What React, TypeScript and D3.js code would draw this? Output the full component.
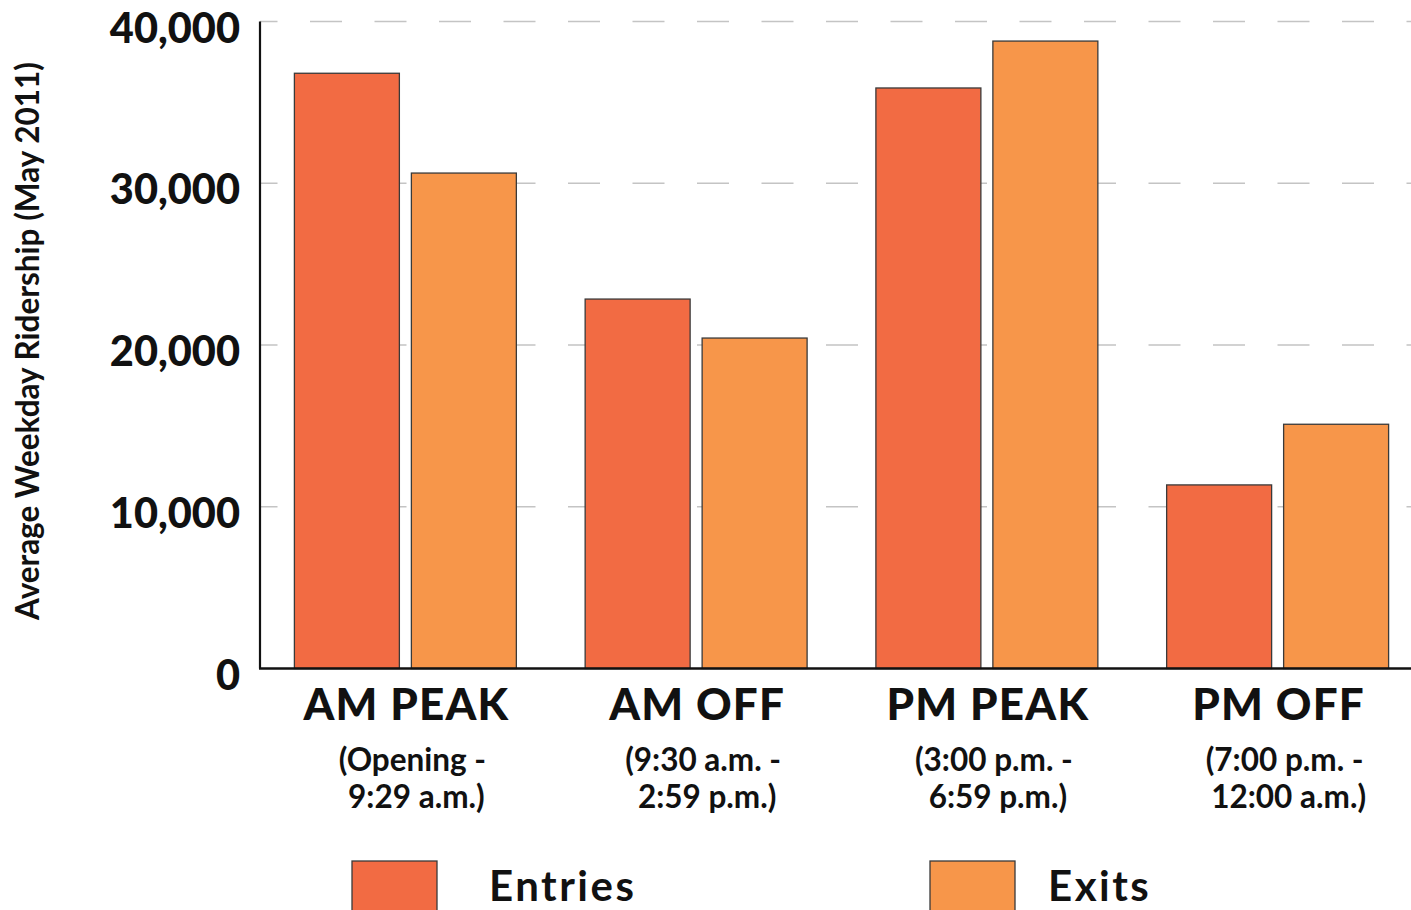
import React, { useEffect, useRef } from "react";
import * as d3 from "d3";

const categories = ["AM PEAK", "AM OFF", "PM PEAK", "PM OFF"];
const subLine1 = ["(Opening -", "(9:30 a.m. -", "(3:00 p.m. -", "(7:00 p.m. -"];
const subLine2 = ["9:29 a.m.)", "2:59 p.m.)", "6:59 p.m.)", "12:00 a.m.)"];
const seriesNames = ["Entries", "Exits"];
const entries = [36800, 22840, 35890, 11350];
const exits = [30630, 20430, 38790, 15100];
const yTicks = [0, 10000, 20000, 30000, 40000];
const colors = ["#f26b43", "#f7964a"];

const W = 1411;
const H = 910;
const FONT = "Lato, 'Open Sans', sans-serif";

export default function App() {
  const ref = useRef<SVGSVGElement>(null);
  useEffect(() => {
    const svg = d3.select(ref.current);
    svg.selectAll("*").remove();
    const x0 = 260, x1 = 1423, yTop = 21.5, yBot = 668.5;
    const x = d3.scaleBand<string>().domain(categories).range([x0, x1]).padding(0);
    const xi = d3.scaleBand<string>().domain(seriesNames).range([0, x.bandwidth()])
      .paddingInner(0.1026).paddingOuter(0.294);
    const y = d3.scaleLinear().domain([0, 40000]).range([yBot, yTop]);

    // gridlines
    svg.append("g").selectAll("line").data(yTicks.filter(t => t > 0)).join("line")
      .attr("x1", x0).attr("x2", W)
      .attr("y1", d => y(d)).attr("y2", d => y(d))
      .attr("stroke", "#c4c4c4").attr("stroke-width", 1.6)
      .attr("stroke-dasharray", "32,32.5").attr("stroke-dashoffset", 14.5);

    // bars
    const data = categories.map((c, i) => ({ c, vals: [entries[i], exits[i]] }));
    const g = svg.append("g");
    data.forEach(d => {
      d.vals.forEach((v, k) => {
        g.append("rect")
          .attr("x", (x(d.c) as number) + (xi(seriesNames[k]) as number))
          .attr("y", y(v))
          .attr("width", xi.bandwidth())
          .attr("height", yBot - y(v))
          .attr("fill", colors[k])
          .attr("stroke", "#3a3a3a").attr("stroke-width", 1.3);
      });
    });

    // axes lines
    svg.append("line").attr("x1", x0).attr("x2", x0).attr("y1", yTop).attr("y2", yBot)
      .attr("stroke", "#111").attr("stroke-width", 2.2);
    svg.append("line").attr("x1", x0 - 1).attr("x2", W).attr("y1", yBot).attr("y2", yBot)
      .attr("stroke", "#111").attr("stroke-width", 2.5);

    // y tick labels
    svg.append("g").selectAll("text").data(yTicks).join("text")
      .attr("x", 240).attr("y", d => y(d) + 21)
      .attr("text-anchor", "end")
      .attr("font-family", FONT).attr("font-weight", 900).attr("font-size", 41.5)
      .attr("fill", "#111")
      .text(d => d3.format(",")(d));

    // y title
    svg.append("text")
      .attr("transform", `translate(39, ${341}) rotate(-90)`)
      .attr("text-anchor", "middle")
      .attr("font-family", FONT).attr("font-weight", 700).attr("font-size", 31.5)
      .attr("fill", "#111")
      .text("Average Weekday Ridership (May 2011)");

    // category labels
    categories.forEach((c, i) => {
      const cx = (x(c) as number) + x.bandwidth() / 2;
      svg.append("text").attr("x", cx + 1).attr("y", 720)
        .attr("text-anchor", "middle")
        .attr("font-family", FONT).attr("font-weight", 900).attr("font-size", 44)
        .attr("letter-spacing", 1.2)
        .attr("fill", "#111").text(c);
      svg.append("text").attr("x", cx + 7).attr("y", 771)
        .attr("text-anchor", "middle")
        .attr("font-family", FONT).attr("font-weight", 700).attr("font-size", 31.5)
        .attr("fill", "#111").text(subLine1[i]);
      svg.append("text").attr("x", cx + 11).attr("y", 808)
        .attr("text-anchor", "middle")
        .attr("font-family", FONT).attr("font-weight", 700).attr("font-size", 31.5)
        .attr("fill", "#111").text(subLine2[i]);
    });

    // legend
    const legX = [352, 930];
    const legTextX = [489, 1048];
    seriesNames.forEach((s, k) => {
      svg.append("rect").attr("x", legX[k]).attr("y", 861).attr("width", 85).attr("height", 60)
        .attr("fill", colors[k]).attr("stroke", "#3a3a3a").attr("stroke-width", 1.3);
      svg.append("text").attr("x", legTextX[k]).attr("y", 901)
        .attr("font-family", FONT).attr("font-weight", 700).attr("font-size", 42)
        .attr("letter-spacing", 2.5)
        .attr("fill", "#111").text(s);
    });
  }, []);
  return (
    <svg ref={ref} width={W} height={H}
      style={{ position: "absolute", left: 0, top: 0, background: "#fff" }} />
  );
}
